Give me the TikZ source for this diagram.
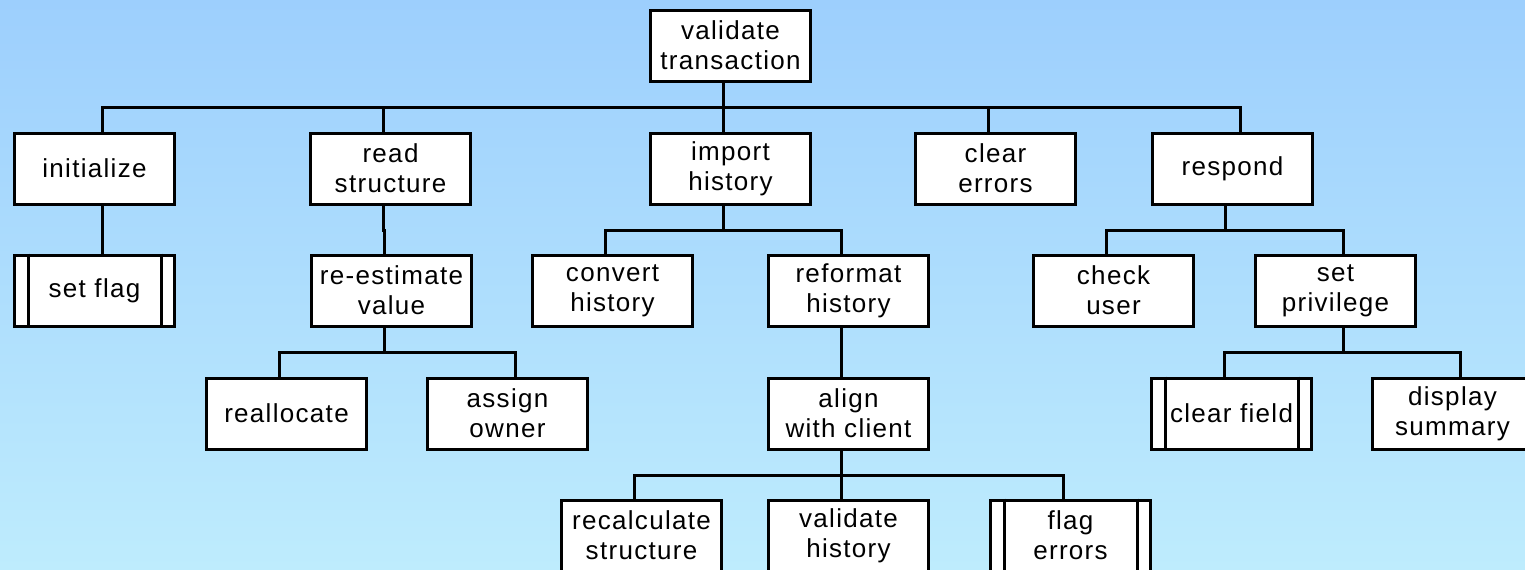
\documentclass[tikz,border=0pt]{standalone}
\usepackage{fontspec}
\newfontfamily\boxfont{Liberation Sans}[LetterSpace=5]
\usepackage{tikz}
\usetikzlibrary{positioning}
\definecolor{skytop}{RGB}{157,207,253}
\definecolor{skymid}{RGB}{166,216,253}
\definecolor{skybot}{RGB}{190,236,253}

\begin{document}
\begin{tikzpicture}[font=\boxfont\fontsize{14.8pt}{17.07pt}\selectfont,node distance=0.96cm]
\tikzset{fn/.style={draw=black,line width=0.06cm,fill=white,minimum width=3.2cm,minimum height=1.42cm,inner sep=0pt,align=center},
  wire/.style={draw=black,line width=0.06cm}}
% backdrop
\shade[top color=skytop,middle color=skymid,bottom color=skybot] (0,0) rectangle (30.5,-11.4);
\useasboundingbox (0,0) rectangle (30.5,-11.4);

\node[fn] (root) at (14.61,-0.91) {validate\\transaction};
% level 1
\node[fn,below=0.98cm of root] (imp) {import\\history};
\node[fn,left=3.54cm of imp] (read) {read\\structure};
\node[fn,left=2.66cm of read] (init) {initialize};
\node[fn,right=2.04cm of imp] (clr) {clear\\errors};
\node[fn,right=1.48cm of clr] (resp) {respond};
% level 2
\node[fn,below=of init] (setflag) {set flag};
\node[fn,right=2.68cm of setflag] (reest) {re-estimate\\value};
\node[fn,right=1.16cm of reest] (conv) {convert\\history};
\node[fn,right=1.46cm of conv] (reform) {reformat\\history};
\node[fn,right=2.04cm of reform] (check) {check\\user};
\node[fn,right=1.18cm of check] (priv) {set\\privilege};
% level 3
\node[fn,below=0.98cm of reform] (align) {align\\with client};
\node[fn,left=3.56cm of align] (assign) {assign\\owner};
\node[fn,left=1.16cm of assign] (realloc) {reallocate};
\node[fn,right=4.4cm of align] (clrfld) {clear field};
\node[fn,right=1.16cm of clrfld] (display) {display\\summary};
% level 4
\node[fn,below=of align] (vhist) {validate\\history};
\node[fn,left=0.88cm of vhist] (recalc) {recalculate\\structure};
\node[fn,right=1.18cm of vhist] (flagerr) {flag\\errors};

% side bars on the library modules
\foreach \n in {setflag,clrfld,flagerr}{
  \draw[wire] ([xshift=0.3cm]\n.north west) -- ([xshift=0.3cm]\n.south west);
  \draw[wire] ([xshift=-0.3cm]\n.north east) -- ([xshift=-0.3cm]\n.south east);
}

% parent/offset/child/offset, offsets in steps of 1.5mm
\foreach \p/\pd/\c/\cd in {root/-1/init/1,root/-1/read/-1,root/-1/imp/-1,root/-1/clr/-1,root/-1/resp/1,
    init/1/setflag/1,read/-1/reest/-1,reest/-1/realloc/-1,reest/-1/assign/1,
    imp/-1/conv/-1,imp/-1/reform/-1,reform/-1/align/-1,
    align/-1/recalc/-1,align/-1/vhist/-1,align/-1/flagerr/-1,
    resp/-1/check/-1,resp/-1/priv/1,priv/1/clrfld/-1,priv/1/display/1}
  \draw[wire] ([xshift=\pd*1.5mm]\p.south) -- ++(0,-0.49cm) -| ([xshift=\cd*1.5mm]\c.north);
\end{tikzpicture}
\end{document}
